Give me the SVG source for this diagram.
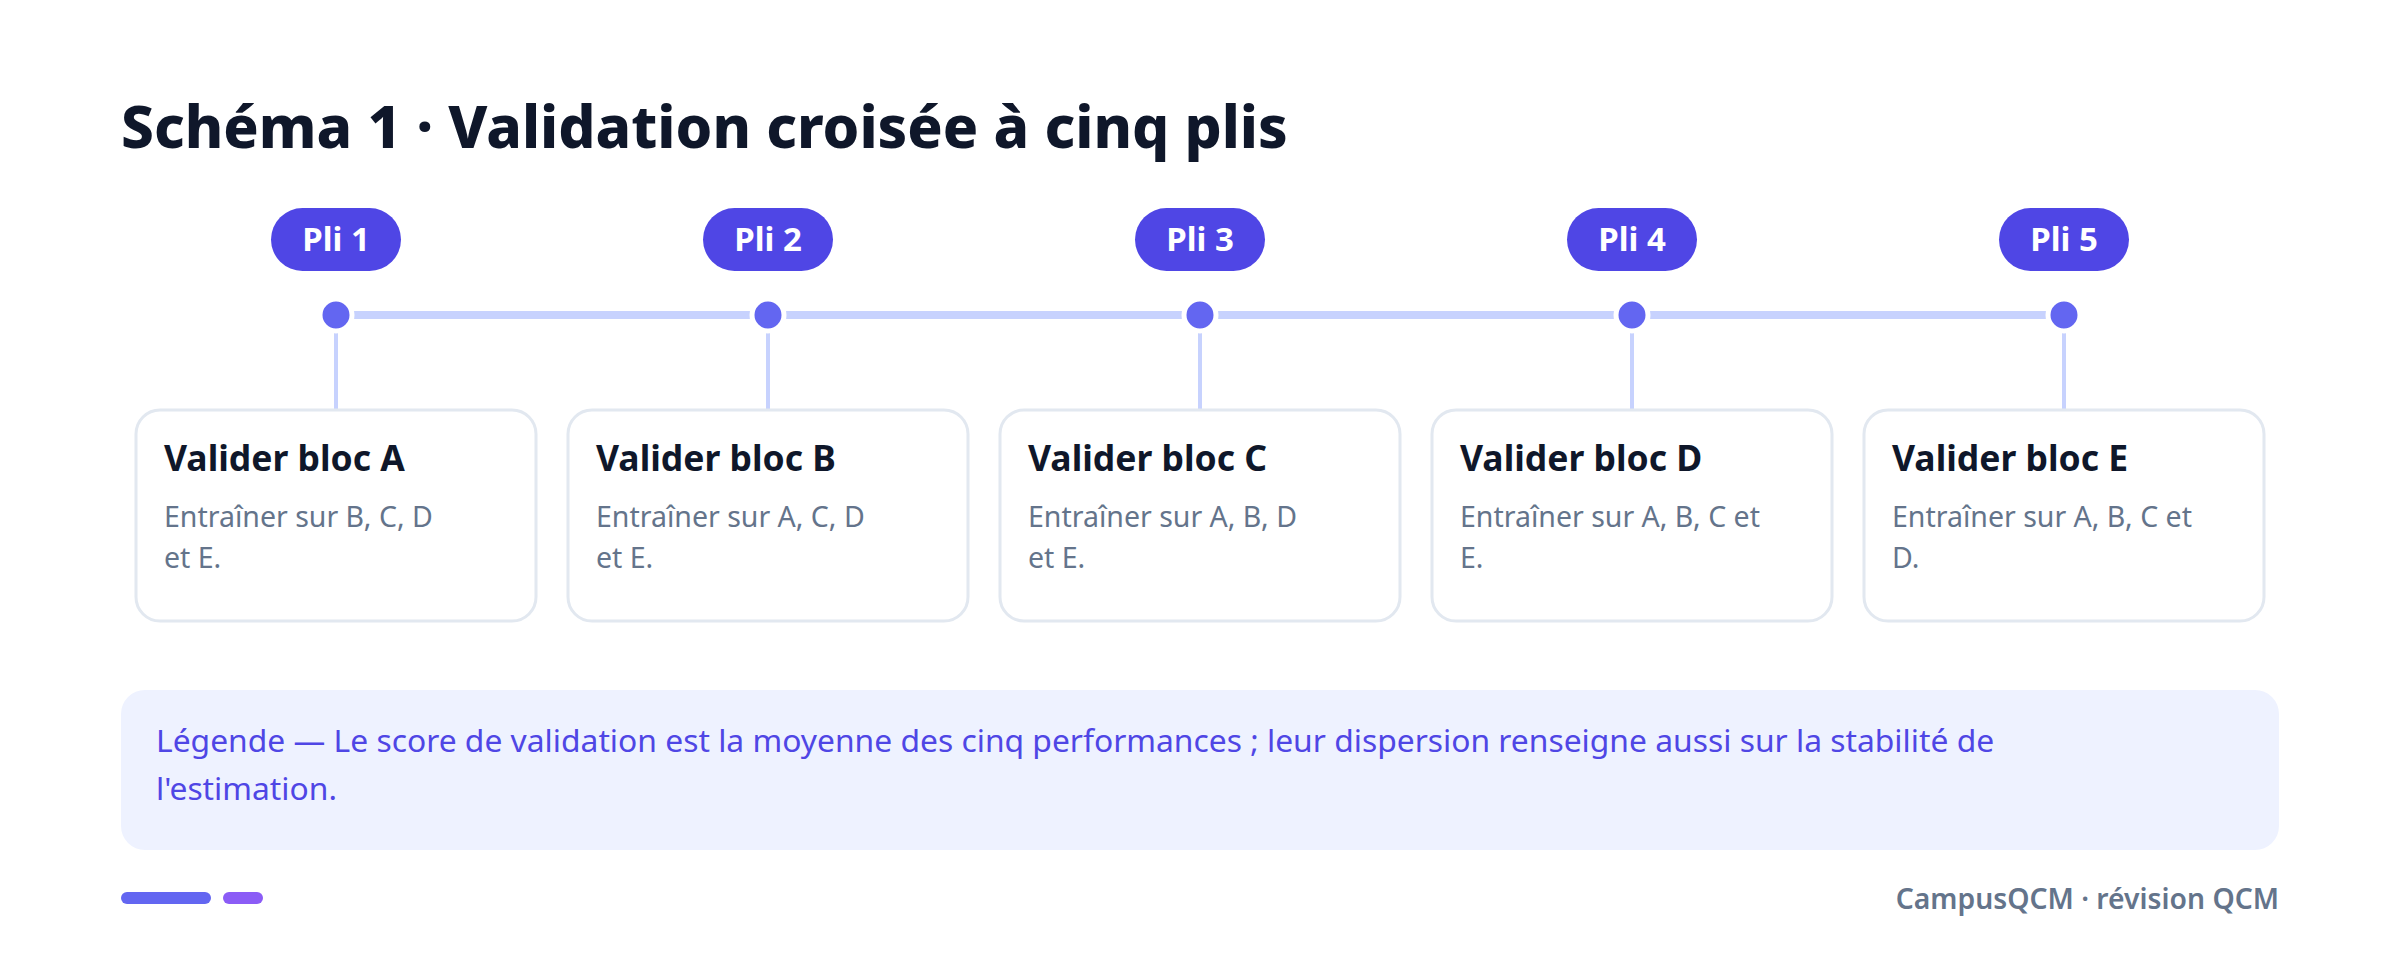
<svg xmlns="http://www.w3.org/2000/svg" width="2400" height="960" viewBox="0 0 2400 960">
<style>
.title{font-family:"Noto Sans","Open Sans",sans-serif;font-weight:800;font-size:58.5px;fill:#0f172a}
.pill{fill:#4f46e5}
.pilltxt{font-family:"Noto Sans","Open Sans",sans-serif;font-weight:700;font-size:33px;fill:#ffffff}
.dot{fill:#6366f1;stroke:#ffffff;stroke-width:5}
.track{stroke:#c7d2fe;stroke-width:8;fill:none}
.stem{stroke:#c7d2fe;stroke-width:4;fill:none}
.card{fill:#ffffff;stroke:#e2e8f0;stroke-width:3}
.ctitle{font-family:"Noto Sans","Open Sans",sans-serif;font-weight:700;font-size:35.5px;fill:#0f172a}
.cdesc{font-family:"Noto Sans","Open Sans",sans-serif;font-weight:400;font-size:28.5px;fill:#64748b}
.legend{fill:#eef2ff}
.legtxt{font-family:"Noto Sans","Open Sans",sans-serif;font-weight:400;font-size:31.8px;fill:#4f46e5}
.foot{font-family:"Noto Sans","Open Sans",sans-serif;font-weight:600;font-size:28.3px;fill:#64748b}
</style>
<rect width="2400" height="960" fill="#ffffff"/>
<text class="title" x="121" y="148">Schéma 1 · Validation croisée à cinq plis</text>
<g id="connectors">
<line class="track" x1="336" y1="315" x2="2064" y2="315"/>
<line class="stem" x1="336" y1="315" x2="336" y2="410"/>
<line class="stem" x1="768" y1="315" x2="768" y2="410"/>
<line class="stem" x1="1200" y1="315" x2="1200" y2="410"/>
<line class="stem" x1="1632" y1="315" x2="1632" y2="410"/>
<line class="stem" x1="2064" y1="315" x2="2064" y2="410"/>
</g>
<g id="fold1">
<rect class="pill" x="271" y="208" width="130" height="63" rx="31.5"/>
<text class="pilltxt" x="336" y="251" text-anchor="middle">Pli 1</text>
<circle class="dot" cx="336" cy="315" r="16"/>
<rect class="card" x="136" y="410" width="400" height="211" rx="24"/>
<text class="ctitle" x="164" y="471">Valider bloc A</text>
<text class="cdesc" x="164" y="527">Entraîner sur B, C, D</text>
<text class="cdesc" x="164" y="568">et E.</text>
</g>
<g id="fold2">
<rect class="pill" x="703" y="208" width="130" height="63" rx="31.5"/>
<text class="pilltxt" x="768" y="251" text-anchor="middle">Pli 2</text>
<circle class="dot" cx="768" cy="315" r="16"/>
<rect class="card" x="568" y="410" width="400" height="211" rx="24"/>
<text class="ctitle" x="596" y="471">Valider bloc B</text>
<text class="cdesc" x="596" y="527">Entraîner sur A, C, D</text>
<text class="cdesc" x="596" y="568">et E.</text>
</g>
<g id="fold3">
<rect class="pill" x="1135" y="208" width="130" height="63" rx="31.5"/>
<text class="pilltxt" x="1200" y="251" text-anchor="middle">Pli 3</text>
<circle class="dot" cx="1200" cy="315" r="16"/>
<rect class="card" x="1000" y="410" width="400" height="211" rx="24"/>
<text class="ctitle" x="1028" y="471">Valider bloc C</text>
<text class="cdesc" x="1028" y="527">Entraîner sur A, B, D</text>
<text class="cdesc" x="1028" y="568">et E.</text>
</g>
<g id="fold4">
<rect class="pill" x="1567" y="208" width="130" height="63" rx="31.5"/>
<text class="pilltxt" x="1632" y="251" text-anchor="middle">Pli 4</text>
<circle class="dot" cx="1632" cy="315" r="16"/>
<rect class="card" x="1432" y="410" width="400" height="211" rx="24"/>
<text class="ctitle" x="1460" y="471">Valider bloc D</text>
<text class="cdesc" x="1460" y="527">Entraîner sur A, B, C et</text>
<text class="cdesc" x="1460" y="568">E.</text>
</g>
<g id="fold5">
<rect class="pill" x="1999" y="208" width="130" height="63" rx="31.5"/>
<text class="pilltxt" x="2064" y="251" text-anchor="middle">Pli 5</text>
<circle class="dot" cx="2064" cy="315" r="16"/>
<rect class="card" x="1864" y="410" width="400" height="211" rx="24"/>
<text class="ctitle" x="1892" y="471">Valider bloc E</text>
<text class="cdesc" x="1892" y="527">Entraîner sur A, B, C et</text>
<text class="cdesc" x="1892" y="568">D.</text>
</g>
<g id="legend">
<rect class="legend" x="121" y="690" width="2158" height="160" rx="24"/>
<text class="legtxt" x="156" y="752">Légende — Le score de validation est la moyenne des cinq performances ; leur dispersion renseigne aussi sur la stabilité de</text>
<text class="legtxt" x="156" y="800">l'estimation.</text>
</g>
<g id="footer">
<rect x="121" y="892" width="90" height="12" rx="6" fill="#6366f1"/>
<rect x="223" y="892" width="40" height="12" rx="6" fill="#8b5cf6"/>
<text class="foot" x="2279" y="909" text-anchor="end">CampusQCM · révision QCM</text>
</g>
</svg>
